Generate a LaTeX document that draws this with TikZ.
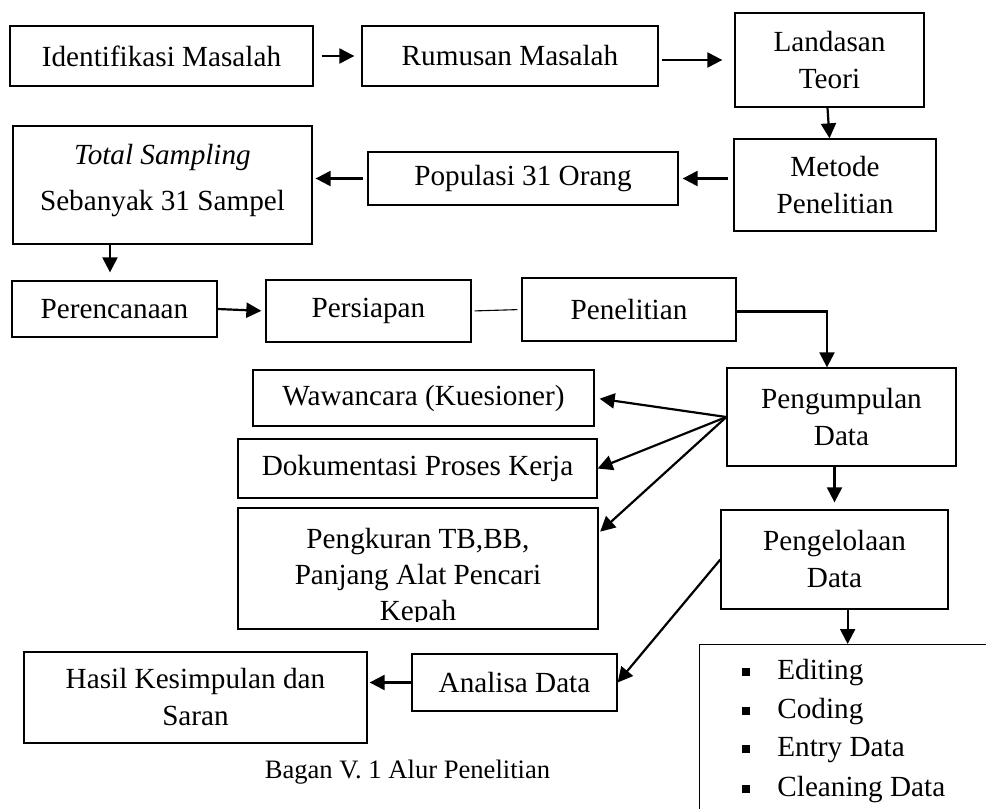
\documentclass[tikz,border=0pt]{standalone}
\usepackage{fontspec}
\setmainfont{Liberation Serif}
\usetikzlibrary{arrows.meta,calc}
\begin{document}
\begin{tikzpicture}[x=0.5pt,y=-0.5pt,
  box/.style={draw, line width=0.65pt, inner sep=0pt, align=center,
    font=\fontsize{14.6}{18.5}\selectfont},
  lbl/.style={inner sep=0pt, align=center, font=\fontsize{14.6}{18}\selectfont},
  arr/.style={line width=1.1pt, -{Triangle[length=7.5pt,width=7.5pt]}},
  thinline/.style={line width=0.55pt},
  bulletsq/.style={fill=black, inner sep=0pt, minimum size=4pt}]
\clip (0,0) rectangle (986,809);
% row 1
\node[box, minimum width=151.5pt, minimum height=30pt] (iden) at (161.5,56) {Identifikasi Masalah};
\node[box, minimum width=148pt, minimum height=30pt] (rumu) at (510,56) {Rumusan Masalah};
\node[box, minimum width=94.5pt, minimum height=47pt] (land) at (829.5,60) {Landasan\\Teori};
% row 2
\node[box, minimum width=101pt, minimum height=46pt] (meto) at (835,185) {Metode\\Penelitian};
\node[box, minimum width=155pt, minimum height=26.5pt] (popu) at (523,178.5) {Populasi 31 Orang};
\node[box, minimum width=149.5pt, minimum height=59pt] (tota) at (162.5,185) {};
\node[lbl] (totat) at (162.5,181) {\textit{Total Sampling}\\[5pt]Sebanyak 31 Sampel};
% row 3
\node[box, minimum width=102.5pt, minimum height=28pt] (pere) at (114.5,309) {Perencanaan};
\node[box, minimum width=102.5pt, minimum height=31pt] (pers) at (368.5,311) {Persiapan};
\node[box, minimum width=107pt, minimum height=31.5pt] (pene) at (629,309.5) {Penelitian};
% data collection
\node[box, minimum width=114.5pt, minimum height=49pt] (peng) at (841.5,417) {Pengumpulan\\Data};
\node[box, minimum width=170.5pt, minimum height=28pt] (wawa) at (423.5,398) {Wawancara (Kuesioner)};
\node[box, minimum width=179.5pt, minimum height=29.5pt] (doku) at (417.5,468.5) {Dokumentasi Proses Kerja};
\node[box, minimum width=180pt, minimum height=60.5pt] (pengk) at (418,568.5) {};
\begin{scope}
\clip (238,508) rectangle (598,621);
\node[lbl] (pengkt) at (418,577) {Pengkuran TB,BB,\\Panjang Alat Pencari\\Kepah};
\end{scope}
% processing
\node[box, minimum width=113.5pt, minimum height=49.5pt] (peng2) at (834.5,559.5) {Pengelolaan\\Data};
\node[box, minimum width=102.5pt, minimum height=28.5pt] (anal) at (514.5,682.5) {Analisa Data};
\node[box, minimum width=171.5pt, minimum height=45.5pt] (hasi) at (195.5,697.5) {Hasil Kesimpulan dan\\Saran};
\node[box, anchor=north west, minimum width=148pt, minimum height=93pt] (list) at (699,644) {};
\foreach \yy/\tt [count=\i] in {673/Editing, 712/Coding, 750/Entry Data, 790/Cleaning Data}{
  \node[bulletsq] (b\i) at (745.5,\yy-1) {};
  \node[lbl, anchor=west] (it\i) at (777,\yy) {\tt};
}
\node[inner sep=0pt, font=\fontsize{13.3}{16}\selectfont] (capt) at (407.5,772) {Bagan V. 1 Alur Penelitian};
% connectors
\coordinate (tp) at ($(pere.north)+(-2.25pt,0)$);
\coordinate (pk) at ($(peng.north west)!0.437!(peng.north east)$);
\coordinate (pkt) at ($(pengk.north east)!0.21!(pengk.south east)$);
\draw[arr, shorten <=4pt, shorten >=3.5pt] (iden.east) -- (rumu.west);
\draw[arr, shorten <=1.5pt, shorten >=6pt] (rumu.east |- land.west) -- (land.west);
\draw[arr] ($(land.south)+(-1pt,0)$) -- (land.south |- meto.north);
\draw[arr, shorten <=2.5pt, shorten >=2pt] (meto.west |- popu.east) -- (popu.east);
\draw[arr, shorten <=2pt, shorten >=1.5pt] (popu.west) -- (popu.west -| tota.east);
\draw[arr, shorten >=4pt] (tota.south -| tp) -- (tp);
\draw[arr, shorten >=2pt] (pere.east) -- (pers.west);
\draw[thinline, shorten <=1.5pt, shorten >=2pt] (pers.east) -- (pene.west);
\draw[arr] ($(pene.east)+(0,-1pt)$) -| (pk);
\draw[arr, shorten >=2.5pt] (peng.west) -- (wawa.east);
\draw[arr] (peng.west) -- (doku.east);
\draw[arr, shorten >=1pt] (peng.west) -- (pkt);
\draw[arr, shorten >=3.5pt] (peng2.north |- peng.south) -- (peng2.north);
\draw[arr] (peng2.west) -- (anal.east);
\draw[arr, shorten >=1pt] (anal.west) -- (anal.west -| hasi.east);
\draw[arr] (list.north |- peng2.south) -- (list.north);
\end{tikzpicture}
\end{document}
